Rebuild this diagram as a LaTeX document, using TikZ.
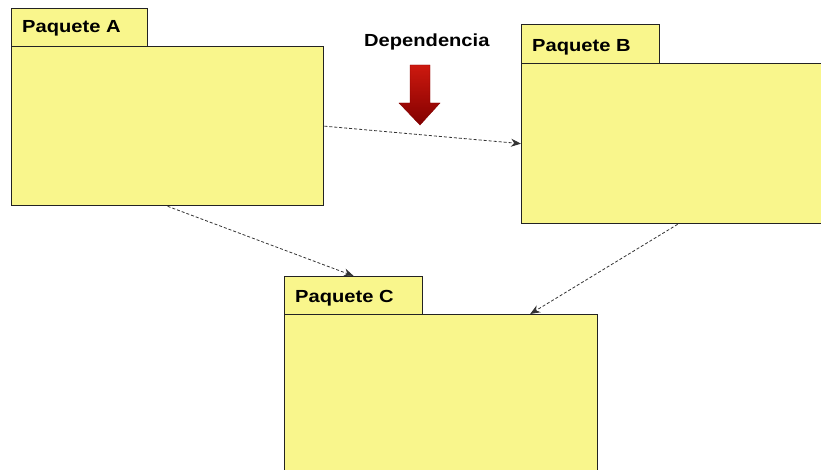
\documentclass[tikz,border=0pt]{standalone}
\usepackage{fontspec}
\setmainfont{Liberation Sans}[FakeStretch=1.15]
\usetikzlibrary{arrows.meta}
\definecolor{pkgfill}{RGB}{249,246,140}
\definecolor{pkgline}{RGB}{35,35,35}
\definecolor{redtop}{RGB}{205,25,15}
\definecolor{redbot}{RGB}{130,0,0}
\tikzset{
  pkgbody/.style={draw=pkgline, fill=pkgfill, line width=1.3pt, anchor=north west, inner sep=0pt},
  pkgtab/.style={draw=pkgline, fill=pkgfill, line width=1.3pt, anchor=north west, inner sep=0pt},
  pkglabel/.style={anchor=base west, inner sep=0pt, font=\fontsize{17.5}{20}\selectfont\bfseries},
  dep/.style={draw=black!80, line width=0.8pt, dash pattern=on 3pt off 2pt, -{Stealth[length=10pt,width=8pt]}}
}
\begin{document}
\begin{tikzpicture}[x=1pt,y=-1pt]
\useasboundingbox (0,0) rectangle (821,470);
% Package A
\node[pkgtab, minimum width=136pt, minimum height=38pt] (At) at (11,8) {};
\node[pkgbody, minimum width=312pt, minimum height=159pt] (A) at (11,46) {};
\node[pkglabel] (Al) at (22,33) {Paquete A};
% Package B
\node[pkgtab, minimum width=138pt, minimum height=39pt] (Bt) at (521,24) {};
\node[pkgbody, minimum width=302pt, minimum height=160pt] (B) at (521,63) {};
\node[pkglabel] (Bl) at (532,52) {Paquete B};
% Package C
\node[pkgtab, minimum width=138pt, minimum height=38pt] (Ct) at (284,276) {};
\node[pkgbody, minimum width=313pt, minimum height=170pt] (C) at (284,314) {};
\node[pkglabel] (Cl) at (295,302) {Paquete C};
% Dependencia label and arrow
\node[pkglabel] (D) at (364,47) {Dependencia};
\path[top color=redtop, bottom color=redbot, draw=redbot, line width=0.4pt]
  (410,65) -- (430,65) -- (430,103) -- (440,103) -- (420,125) -- (399,103) -- (410,103) -- cycle;
% Dependencies
\coordinate (Cin) at ([xshift=89pt]C.north);
\draw[dep] (A.east) -- (B.west);
\draw[dep] (A.south) -- (Ct.north);
\draw[dep] ([xshift=5pt]B.south) -- (Cin);
\end{tikzpicture}
\end{document}
